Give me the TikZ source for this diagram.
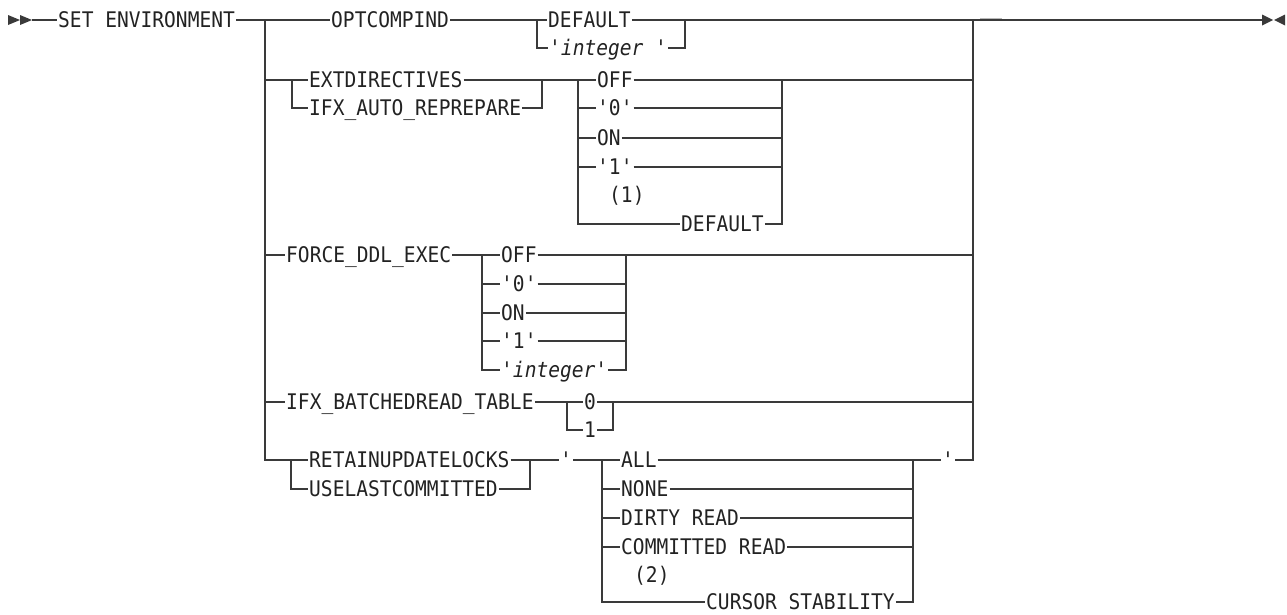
\documentclass[tikz,border=0pt]{standalone}
\usepackage{fontspec}
\newfontfamily\railfont[Ligatures=TeXOff, FakeStretch=0.91]{DejaVu Sans Mono}
\definecolor{railline}{HTML}{3A3A3A}
\definecolor{railtext}{HTML}{222222}

\begin{document}
\begin{tikzpicture}[
    x=1pt, y=-1pt,
    rail/.style={draw=railline, line width=1.1pt},
    kw/.style={anchor=west, inner xsep=1pt, inner ysep=0pt, text=railtext,
        font=\railfont\fontsize{21.5}{22}\selectfont,
        text height=15pt, text depth=0pt},
    var/.style={kw, font=\railfont\itshape\fontsize{21.5}{22}\selectfont}
]
    \useasboundingbox (0,0) rectangle (1287,614);

    % Entry and exit
    \coordinate (start)  at (32,20);
    \coordinate (jin)    at (265,20);
    \coordinate (jout)   at (973,20);
    \coordinate (finish) at (1262,20);
    \fill[railline] (8,15) -- (20,20) -- (8,25) -- cycle;
    \fill[railline] (20,15) -- (start) -- (20,25) -- cycle;
    \fill[railline] (finish) ++(0,-5.5) -- (1273,20) -- (1262,25.5) -- cycle;
    \fill[railline] (1285,14.5) -- (1274,20) -- (1285,25.5) -- cycle;
    \draw[gray!55, line width=2pt] (980,19) -- (1002,19);

    \node[kw] (set) at (57,20) {SET ENVIRONMENT};
    \draw[rail] (start) -- (set);

    % OPTCOMPIND
    \node[kw]  (optc) at (330,20) {OPTCOMPIND};
    \node[kw]  (odef) at (547,20) {DEFAULT};
    \node[var] (oint) at (548,48) {'integer '};
    \coordinate (optl) at (537,20);
    \coordinate (optr) at (685,20);
    \draw[rail] (set) -- (optc);
    \draw[rail] (optc) -- (odef);
    \draw[rail] (odef) -- (finish);
    \draw[rail] (optl) |- (oint);
    \draw[rail] (oint) -| (optr);

    % EXTDIRECTIVES / IFX_AUTO_REPREPARE
    \node[kw] (extd) at (308,80)  {EXTDIRECTIVES};
    \node[kw] (iar)  at (308,108) {IFX\_AUTO\_REPREPARE};
    \node[kw] (eoff) at (596,80)  {OFF};
    \node[kw] (e0)   at (596,108) {'0'};
    \node[kw] (eon)  at (596,138) {ON};
    \node[kw] (e1)   at (596,167) {'1'};
    \node[kw] (enote) at (608,195) {(1)};
    \node[kw] (edef) at (680,224) {DEFAULT};
    \coordinate (extl) at (292,80);
    \coordinate (extr) at (542,80);
    \coordinate (offl) at (578,80);
    \coordinate (offr) at (782,80);
    \draw[rail] (jin |- extd) -- (extd);
    \draw[rail] (extl) |- (iar);
    \draw[rail] (iar) -| (extr);
    \draw[rail] (extd) -- (eoff);
    \draw[rail] (eoff) -- (jout |- eoff);
    \foreach \n in {e0,eon,e1,edef}
        \draw[rail] (offl) |- (\n) (\n) -| (offr);

    % FORCE_DDL_EXEC
    \node[kw]  (force) at (285,255) {FORCE\_DDL\_EXEC};
    \node[kw]  (foff)  at (500,255) {OFF};
    \node[kw]  (f0)    at (500,284) {'0'};
    \node[kw]  (fon)   at (500,313) {ON};
    \node[kw]  (f1)    at (500,341) {'1'};
    \node[var] (fint)  at (500,370) {'integer'};
    \coordinate (fl) at (482,255);
    \coordinate (fr) at (626,255);
    \draw[rail] (jin |- force) -- (force);
    \draw[rail] (force) -- (foff);
    \draw[rail] (foff) -- (jout |- foff);
    \foreach \n in {f0,fon,f1,fint}
        \draw[rail] (fl) |- (\n) (\n) -| (fr);

    % IFX_BATCHEDREAD_TABLE
    \node[kw] (batch) at (285,402) {IFX\_BATCHEDREAD\_TABLE};
    \node[kw] (b0)    at (583,402) {0};
    \node[kw] (b1)    at (583,430) {1};
    \coordinate (bl) at (567,402);
    \coordinate (br) at (613,402);
    \draw[rail] (jin |- batch) -- (batch);
    \draw[rail] (batch) -- (b0);
    \draw[rail] (b0) -- (jout |- b0);
    \draw[rail] (bl) |- (b1) -| (br);

    % RETAINUPDATELOCKS / USELASTCOMMITTED
    \node[kw] (retain)  at (308,460) {RETAINUPDATELOCKS};
    \node[kw] (uselast) at (308,489) {USELASTCOMMITTED};
    \node[kw] (q1)      at (559,460) {'};
    \node[kw] (all)     at (620,460) {ALL};
    \node[kw] (none)    at (620,489) {NONE};
    \node[kw] (dirty)   at (620,518) {DIRTY READ};
    \node[kw] (comm)    at (620,547) {COMMITTED READ};
    \node[kw] (cnote)   at (633,575) {(2)};
    \node[kw] (curs)    at (705,602) {CURSOR STABILITY};
    \node[kw] (q2)      at (941,460) {'};
    \coordinate (retl) at (291,460);
    \coordinate (retr) at (530,460);
    \coordinate (alll) at (602,460);
    \coordinate (allr) at (913,460);
    \draw[rail] (jin) |- (retl);
    \draw[rail] (retl) -- (retain);
    \draw[rail] (retl) |- (uselast);
    \draw[rail] (uselast) -| (retr);
    \draw[rail] (retain) -- (q1);
    \draw[rail] (q1) -- (all);
    \draw[rail] (all) -- (q2);
    \draw[rail] (q2) -| (jout);
    \foreach \n in {none,dirty,comm,curs}
        \draw[rail] (alll) |- (\n) (\n) -| (allr);

\end{tikzpicture}
\end{document}
